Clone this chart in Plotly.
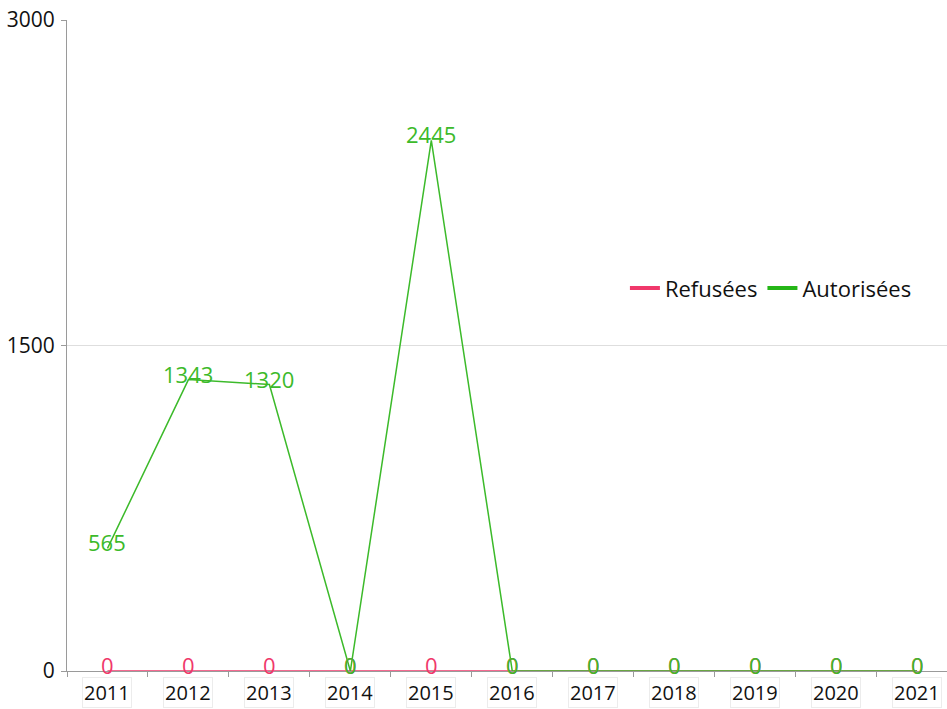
import plotly.graph_objects as go

years = ["2011", "2012", "2013", "2014", "2015", "2016", "2017", "2018", "2019", "2020", "2021"]
refusees = [0, 0, 0, 0, 0, 0, 0, 0, 0, 0, 0]
autorisees = [565, 1343, 1320, 0, 2445, 0, 0, 0, 0, 0, 0]
y_ticks = [0, 1500, 3000]

red = "#f0386b"
green = "#3cba2a"
legend_green = "#25b617"
font_family = "'Open Sans', Lato, sans-serif"
label_size = 22
tick_size = 21

series = [("Refusées", refusees, red, red), ("Autorisées", autorisees, green, legend_green)]

fig = go.Figure()
for name, values, color, key_color in series:
    # data line (legend entry comes from a separate thicker key trace)
    fig.add_trace(go.Scatter(
        x=years, y=values, name=name, mode="lines", legendgroup=name,
        showlegend=False, line=dict(color=color, width=1.5), hoverinfo="x+y",
    ))
    fig.add_trace(go.Scatter(
        x=[None], y=[None], name=name, mode="lines", legendgroup=name,
        line=dict(color=key_color, width=4),
    ))

# value labels, sitting just above each point (category axis: position by index)
annotations = []
for name, values, color, _ in series:
    for i, v in enumerate(values):
        annotations.append(dict(
            x=i, y=v, xref="x", yref="y", text=str(v), showarrow=False,
            yshift=6, font=dict(color=color, size=label_size, family=font_family),
        ))

# category labels in thin light boxes under the axis
for i, yr in enumerate(years):
    annotations.append(dict(
        x=i, y=0, xref="x", yref="paper", text=yr, showarrow=False,
        yanchor="top", yshift=-6, borderpad=1, bordercolor="#ececec", borderwidth=1,
        bgcolor="white", font=dict(color="#111111", size=20, family=font_family),
    ))

fig.update_layout(
    width=947, height=709,
    margin=dict(l=67, r=0, t=20, b=38),
    paper_bgcolor="white", plot_bgcolor="white",
    font=dict(family=font_family, size=tick_size, color="#111111"),
    legend=dict(orientation="h", x=0.634, y=0.588, xanchor="left", yanchor="middle",
                font=dict(size=22, family=font_family), itemwidth=30,
                bgcolor="rgba(0,0,0,0)", tracegroupgap=0),
    annotations=annotations,
    showlegend=True,
)
fig.update_xaxes(
    type="category", showgrid=False, showline=True, linecolor="#9a9a9a", linewidth=1,
    ticks="outside", tickson="boundaries", ticklen=5, tickcolor="#9a9a9a",
    showticklabels=False, range=[-0.5, 10.37],
)
fig.update_yaxes(
    range=[0, 3000], tickvals=y_ticks, showgrid=True, gridcolor="#dedede",
    showline=True, linecolor="#9a9a9a", linewidth=1, ticks="outside", ticklen=5,
    tickcolor="#9a9a9a", tickfont=dict(size=tick_size), zeroline=False,
    ticklabelstandoff=2,
)

fig.write_html("out.html")
